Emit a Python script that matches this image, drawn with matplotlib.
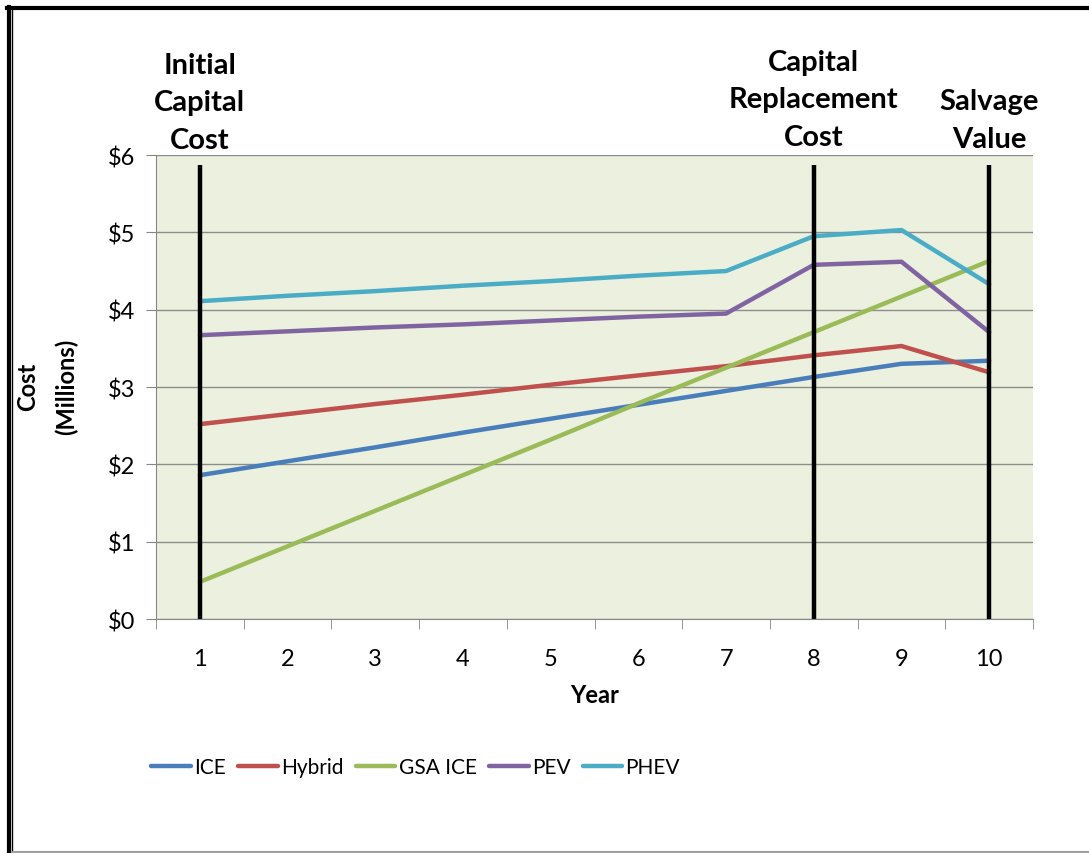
"""Lifecycle cost of fleet vehicle options, with capital events marked."""
import matplotlib
matplotlib.use('Agg')
import matplotlib.pyplot as plt
from matplotlib.lines import Line2D

plt.rcParams['font.family'] = ['Lato', 'DejaVu Sans']

# data (millions of dollars)
years = [1, 2, 3, 4, 5, 6, 7, 8, 9, 10]
ice = [1.86, 2.04, 2.22, 2.41, 2.59, 2.77, 2.95, 3.13, 3.30, 3.34]
hybrid = [2.52, 2.65, 2.78, 2.90, 3.03, 3.15, 3.27, 3.41, 3.53, 3.19]
gsa_ice = [0.48, 0.94, 1.40, 1.86, 2.32, 2.79, 3.25, 3.71, 4.17, 4.63]
pev = [3.67, 3.72, 3.77, 3.81, 3.86, 3.91, 3.95, 4.58, 4.62, 3.71]
phev = [4.11, 4.18, 4.24, 4.31, 4.37, 4.44, 4.50, 4.95, 5.03, 4.33]
series_names = ['ICE', 'Hybrid', 'GSA ICE', 'PEV', 'PHEV']
colors = ['#4A7EBB', '#C0504D', '#9BBB59', '#8064A2', '#4BACC6']
y_ticks = [0, 1, 2, 3, 4, 5, 6]
y_labels = ['$0', '$1', '$2', '$3', '$4', '$5', '$6']

# capital events: (year, label, y of text centre in data units)
events = [(1, 'Initial\nCapital\nCost', 6.68),
          (8, 'Capital\nReplacement\nCost', 6.72),
          (10, 'Salvage\nValue', 6.45)]
event_line_top = 5.87

fig = plt.figure(figsize=(10.89, 8.54), dpi=100)
ax = fig.add_axes([0.1433, 0.274, 0.8053, 0.5433])
ax.set_facecolor('#EBF1DE')

for vals, name, c in zip([ice, hybrid, gsa_ice, pev, phev], series_names, colors):
    ax.plot(years, vals, color=c, lw=3.2, label=name, solid_capstyle='round', zorder=3)

for yr, txt, ty in events:
    ax.plot([yr, yr], [0, event_line_top], color='black', lw=3.2, zorder=4,
            solid_capstyle='butt')
    ax.text(yr, ty, txt, ha='center', va='center', fontsize=21, fontweight='bold',
            linespacing=1.56, clip_on=False)

ax.set_xlim(0.5, 10.5)
ax.set_ylim(0, 6)
ax.set_yticks(y_ticks)
ax.set_yticklabels(y_labels)
ax.set_xticks(years)
ax.set_xticks([y + 0.5 for y in [0] + years], minor=True)
ax.tick_params(axis='x', which='major', length=0, pad=21, labelsize=17)
ax.tick_params(axis='x', which='minor', length=7, color='#868686', direction='out')
ax.tick_params(axis='y', length=7, color='#868686', pad=8, labelsize=17)
ax.grid(axis='y', color='#8C8C8C', lw=1)
ax.set_axisbelow(True)
for side in ['top', 'right']:
    ax.spines[side].set_visible(False)
for side in ['left', 'bottom']:
    ax.spines[side].set_color('#868686')

ax.set_xlabel('Year', fontsize=17, fontweight='bold', labelpad=10)
fig.text(0.025, 0.547, 'Cost', rotation=90, ha='center', va='center',
         fontsize=17, fontweight='bold')
fig.text(0.061, 0.547, '(Millions)', rotation=90, ha='center', va='center',
         fontsize=17, fontweight='bold')

ax.legend(loc='center', bbox_to_anchor=(0.296, -0.319), ncol=5, frameon=False,
          fontsize=15, handlelength=1.9, handletextpad=0.15, columnspacing=0.6)

# border frame of the original screenshot
W, H = 1089, 854
fig.add_artist(Line2D([8.5 / W, 8.5 / W], [0, 1 - 8 / H], color='black', lw=3,
                      transform=fig.transFigure))
fig.add_artist(Line2D([12 / W, 12 / W], [0, 1 - 11 / H], color='black', lw=1,
                      transform=fig.transFigure))
fig.add_artist(Line2D([7 / W, 1], [1 - 9 / H, 1 - 9 / H], color='black', lw=3,
                      transform=fig.transFigure))
fig.add_artist(Line2D([12 / W, 1], [1 / H, 1 / H], color='#A0A0A0', lw=1.5,
                      transform=fig.transFigure))

fig.savefig('out.png', dpi=100)
